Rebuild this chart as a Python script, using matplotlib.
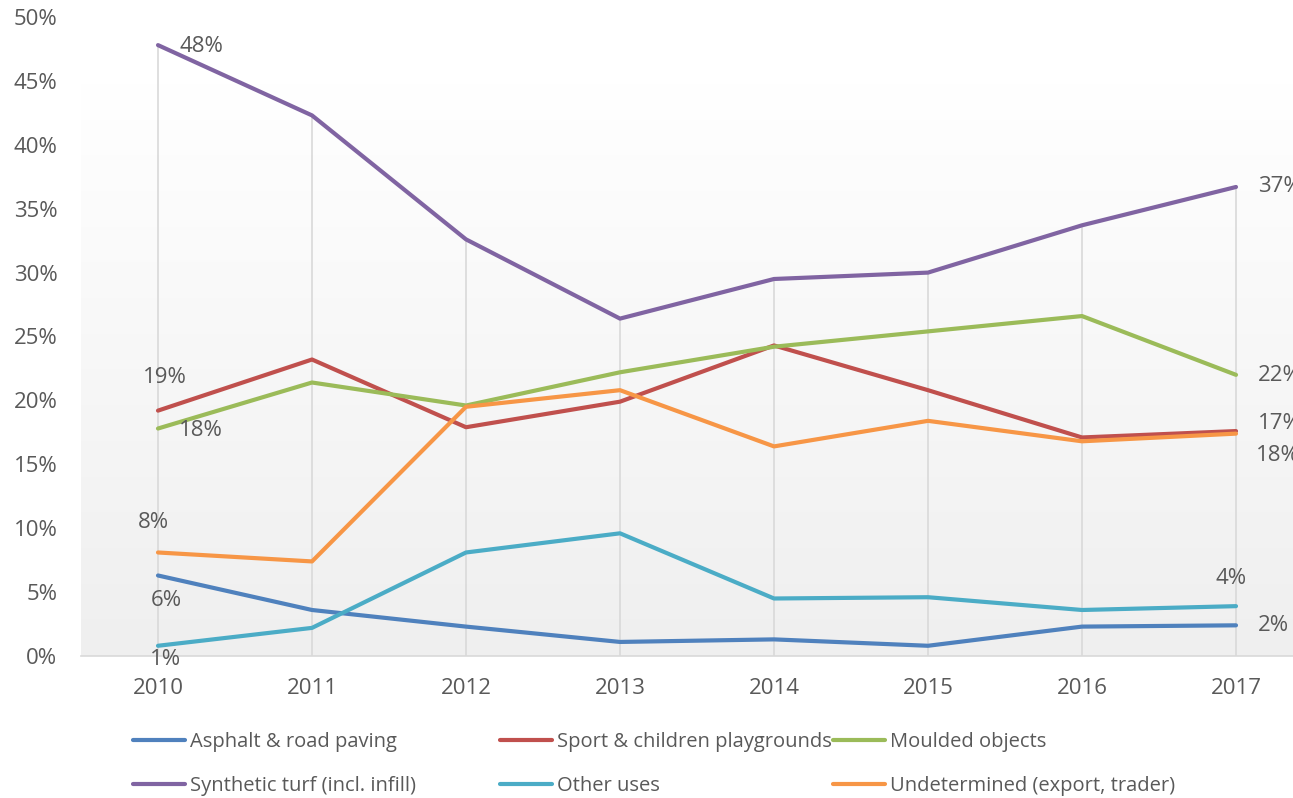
import numpy as np
import matplotlib.pyplot as plt
from matplotlib.colors import LinearSegmentedColormap
from matplotlib.ticker import FuncFormatter

plt.rcParams['font.family'] = ['Open Sans', 'DejaVu Sans']

years = ['2010', '2011', '2012', '2013', '2014', '2015', '2016', '2017']
asphalt = [6.3, 3.6, 2.3, 1.1, 1.3, 0.8, 2.3, 2.4]
sport = [19.2, 23.2, 17.9, 19.9, 24.3, 20.8, 17.1, 17.6]
moulded = [17.8, 21.4, 19.6, 22.2, 24.2, 25.4, 26.6, 22.0]
turf = [47.8, 42.3, 32.6, 26.4, 29.5, 30.0, 33.7, 36.7]
other = [0.8, 2.2, 8.1, 9.6, 4.5, 4.6, 3.6, 3.9]
undetermined = [8.1, 7.4, 19.5, 20.8, 16.4, 18.4, 16.8, 17.4]

series = [
    ("Asphalt & road paving", asphalt, '#4F81BD'),
    ("Sport & children playgrounds", sport, '#C0504D'),
    ("Moulded objects", moulded, '#9BBB59'),
    ("Synthetic turf (incl. infill)", turf, '#8064A2'),
    ("Other uses", other, '#4BACC6'),
    ("Undetermined (export, trader)", undetermined, '#F79646'),
]

# data labels: (series values, index, text, offset px, ha)
labels = [
    (turf, 0, "48%", (22, -1), 'left'),
    (sport, 0, "19%", (7, 33), 'center'),
    (moulded, 0, "18%", (43, -2), 'center'),
    (undetermined, 0, "8%", (-5, 30), 'center'),
    (asphalt, 0, "6%", (8, -25), 'center'),
    (other, 0, "1%", (8, -14), 'center'),
    (turf, 7, "37%", (22, 0), 'left'),
    (moulded, 7, "22%", (22, -1), 'left'),
    (sport, 7, "17%", (22, 8), 'left'),
    (undetermined, 7, "18%", (20, -22), 'left'),
    (other, 7, "4%", (-5, 28), 'center'),
    (asphalt, 7, "2%", (22, 0), 'left'),
]

grey = '#595959'
fs = 16
fig = plt.figure(figsize=(12.93, 7.98), dpi=100)
ax = fig.add_axes([81 / 1293, 1 - 656 / 798, 1232 / 1293, 639 / 798])
x = np.arange(len(years))

# soft vertical gradient behind the plot
cmap = LinearSegmentedColormap.from_list('bg', ['#ffffff', '#efefef'])
grad = np.linspace(0, 1, 256).reshape(-1, 1)
ax.imshow(grad, cmap=cmap, extent=(-0.5, 7.5, 0, 44.8), origin='upper',
          aspect='auto', zorder=0)

# drop lines from the highest series down to the axis
tops = np.max([s[1] for s in series], axis=0)
ax.vlines(x, 0, tops, color='#d9d9d9', lw=1.2, zorder=1)

handles = []
for name, vals, col in series:
    h, = ax.plot(x, vals, color=col, lw=3, solid_capstyle='round', label=name, zorder=3)
    handles.append(h)

for vals, i, txt, off, ha in labels:
    ax.annotate(txt, (x[i], vals[i]), xytext=off, textcoords='offset pixels',
                ha=ha, va='center', fontsize=fs, color=grey, zorder=4)

ax.set_xlim(-0.5, 7.5)
ax.set_ylim(0, 50)
ax.set_yticks(range(0, 51, 5))
ax.yaxis.set_major_formatter(FuncFormatter(lambda v, p: f"{int(v)}%"))
ax.set_xticks(x)
ax.set_xticklabels(years)
ax.tick_params(length=0, labelsize=fs, colors=grey)
ax.tick_params(axis='y', pad=17)
ax.tick_params(axis='x', pad=16)
for s in ['top', 'right', 'left']:
    ax.spines[s].set_visible(False)
ax.spines['bottom'].set_color('#d9d9d9')
ax.spines['bottom'].set_linewidth(1.2)

# legend: three columns placed like the original
col_x = [133, 500, 833]
for c in range(3):
    idx = [c, c + 3]
    leg = fig.legend([handles[i] for i in idx], [series[i][0] for i in idx],
                     loc='upper left', bbox_to_anchor=(col_x[c] / 1293, 1 - 732 / 798),
                     frameon=False, fontsize=14.5, labelcolor=grey, handlelength=2.6,
                     handletextpad=0.25, labelspacing=1.2, borderpad=0, borderaxespad=0)

fig.savefig('out.png', dpi=100)
